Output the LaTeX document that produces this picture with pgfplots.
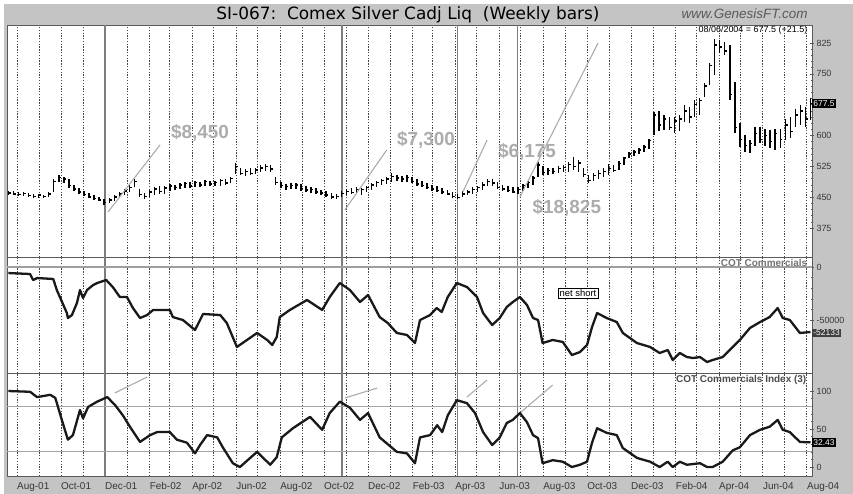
\documentclass[border=0pt]{standalone}
\usepackage{fontspec}
\setmainfont{Liberation Sans}
\newfontfamily\titlefont{DejaVu Sans}
\usepackage{pgfplots}
\usepackage{pgfplotstable}
\pgfplotsset{compat=1.18}
\definecolor{bg}{RGB}{196,196,196}
\definecolor{annot}{RGB}{172,172,172}
\definecolor{gridc}{RGB}{70,70,70}
\definecolor{vsolid}{RGB}{125,125,125}
\definecolor{frame}{RGB}{90,90,90}
\definecolor{ticktxt}{RGB}{55,55,55}

\pgfplotstableread{
w l h c
0 455 466 460
1 454 464 458
2 452 462 457
3 453 463 459
4 450 460 454
5 449 458 452
6 448 458 455
7 447 456 451
8 450 462 458
9 462 494 488
10 486 505 498
11 484 500 494
12 472 494 478
13 465 480 470
14 458 472 463
15 452 465 456
16 447 459 450
17 443 454 447
18 440 451 443
19 432 445 437
20 435 448 443
21 440 455 450
22 447 462 458
23 455 470 465
24 463 480 474
25 475 494 488
26 450 470 456
27 446 460 452
28 450 468 463
29 456 474 470
30 458 478 464
31 458 478 472
32 465 482 477
33 467 480 473
34 470 484 480
35 473 488 483
36 471 487 477
37 474 490 486
38 474 488 480
39 476 492 488
40 477 490 482
41 476 490 486
42 478 494 490
43 479 493 484
44 484 500 495
45 506 533 524
46 504 520 508
47 502 518 512
48 504 520 508
49 506 522 516
50 510 528 521
51 514 530 525
52 510 528 518
53 480 500 485
54 472 488 478
55 468 482 476
56 470 484 478
57 470 485 480
58 466 482 471
59 462 478 467
60 460 475 468
61 458 472 462
62 455 468 460
63 450 464 455
64 446 460 450
65 445 458 452
66 450 464 459
67 455 470 464
68 457 472 461
69 460 474 468
70 456 472 469
71 462 478 474
72 467 484 480
73 474 490 486
74 480 495 490
75 482 500 494
76 488 509 500
77 490 505 496
78 486 502 494
79 488 504 498
80 484 500 488
81 478 494 482
82 474 490 478
83 470 485 473
84 466 480 470
85 462 476 466
86 458 472 462
87 455 468 458
88 448 462 452
89 446 458 449
90 450 464 458
91 454 468 462
92 458 474 468
93 462 478 474
94 468 486 480
95 476 494 488
96 477 494 484
97 470 488 474
98 465 480 470
99 462 476 466
100 459 474 463
101 458 475 468
102 465 482 478
103 472 490 486
104 480 502 496
105 500 535 528
106 505 525 510
107 504 520 515
108 506 522 512
109 508 526 520
110 510 528 522
111 512 535 530
112 515 547 525
113 512 540 533
114 500 522 505
115 485 505 490
116 490 508 502
117 495 515 508
118 500 522 512
119 505 530 520
120 510 528 515
121 515 538 532
122 528 548 545
123 545 560 555
124 550 565 560
125 555 570 565
126 560 577 572
127 568 592 588
128 600 657 650
129 610 660 625
130 613 650 640
131 613 645 620
132 606 645 635
133 610 650 640
134 633 674 660
135 630 670 645
136 645 686 675
137 650 690 685
138 694 728 720
139 723 776 770
140 747 834 820
141 800 832 815
142 796 827 805
143 686 820 700
144 606 730 620
145 572 630 590
146 560 600 575
147 557 590 580
148 575 620 605
149 582 620 590
150 575 615 600
151 570 613 585
152 565 615 605
153 570 615 590
154 590 640 625
155 595 645 610
156 620 665 650
157 625 674 660
158 620 670 640
159 637 690 677.5
}\price

\pgfplotstableread{
w v
0 -5700
4.3 -6600
4.9 -12300
5.7 -10400
8.9 -11300
9.6 -21700
11.6 -43400
11.8 -48100
12.6 -45300
13.6 -33900
14.2 -21700
14.8 -29200
15.6 -21700
16.8 -17000
17.6 -15100
19.4 -12300
20.7 -18900
22.1 -28300
23.5 -28300
24.7 -38700
26.1 -48100
27.5 -45300
28.7 -40500
32.0 -40500
32.6 -47200
34.6 -50000
37.0 -59400
38.6 -44300
42.0 -45300
43.3 -52800
45.3 -75400
47.3 -68800
49.3 -62200
51.3 -68800
52.3 -73600
53.2 -66000
53.8 -47200
55.8 -40500
59.2 -31100
62.2 -40500
63.7 -28300
65.7 -15100
67.7 -21700
69.7 -33000
71.3 -26400
73.6 -47200
75.2 -52800
77.0 -62200
79.0 -64100
80.6 -71700
81.6 -50000
83.6 -45300
84.9 -38700
85.9 -42400
87.1 -28300
88.9 -15100
90.9 -18900
92.9 -28300
94.1 -43400
95.9 -54700
97.4 -48100
98.8 -37700
100.0 -33000
101.4 -28300
102.8 -35800
104.0 -48100
105.0 -50000
105.9 -71700
107.9 -68800
109.9 -70700
111.7 -83000
113.3 -80200
114.7 -73600
115.7 -56600
116.7 -43400
118.6 -48100
120.6 -51900
121.8 -62200
124.6 -71700
127.2 -75400
129.1 -81100
130.7 -78300
131.7 -87700
133.1 -81100
134.5 -84900
135.7 -85800
137.1 -84900
138.5 -89600
139.6 -87700
141.6 -84900
143.6 -75400
145.0 -68800
147.0 -57500
149.0 -51900
150.9 -47200
152.5 -38700
153.5 -48100
154.9 -50000
156.9 -62200
159.0 -61300
}\cot

\pgfplotstableread{
w v
0 100
4.3 99
5.7 92
8.3 95
9.3 91
10.6 62
11.8 36
12.8 42
14.2 75
14.8 64
15.8 79
17.6 86
19.6 92
21.1 82
22.7 68
24.1 53
26.1 33
28.1 42
29.5 46
32.0 46
33.4 36
35.4 32
37.0 18
38.0 29
39.4 42
41.4 39
42.5 26
44.5 5
45.9 0
49.3 20
51.9 3
53.2 13
54.2 39
56.4 51
59.8 66
62.2 49
63.7 71
65.7 86
67.7 78
69.7 62
71.3 71
73.6 39
77.0 20
79.0 18
80.6 5
81.6 39
83.6 42
85.0 55
86.0 46
87.1 68
88.9 88
90.9 84
92.5 71
94.1 46
95.9 29
97.4 39
98.8 58
100.0 62
101.4 71
102.8 59
104.0 42
105.0 38
105.9 5
107.9 9
109.9 7
111.7 0
113.3 3
114.7 7
115.7 32
116.7 51
118.6 45
120.6 42
121.8 25
124.6 12
127.2 7
129.1 0
130.7 7
131.7 0
133.1 7
134.5 3
137.1 5
138.5 0
139.6 0
141.6 7
143.6 22
145.0 26
147.0 42
149.0 49
150.9 53
152.5 62
153.5 49
154.9 46
156.9 33
159.0 32.43
}\cotidx

\pgfplotsset{
  panel/.style={
    scale only axis, width=805bp, anchor=north west,
    xmin=-0.27, xmax=159.3, clip=false,
    axis background/.style={fill=white},
    axis line style={draw=frame, line width=0.7pt},
    xtick={1.714,6.143,10.43,14.86,19.14,23.57,28.0,32.0,36.43,40.71,45.14,49.43,53.86,58.29,62.57,67.0,71.29,75.71,80.14,84.14,88.57,92.86,97.29,101.57,106.0,110.43,114.71,119.14,123.43,127.86,132.29,136.43,140.86,145.14,149.57,153.86,158.29},
    xtick style={draw=none},
    xmajorgrids,
    major x grid style={draw=gridc, line width=0.9pt, dash pattern=on 1.3pt off 1.5pt},
    extra x ticks={19.15,66.12,89.05,100.9},
    extra x tick labels={},
    extra x tick style={major x grid style={solid, draw=vsolid, line width=1.4pt}},
    ytick pos=right, yticklabel pos=right,
    scaled y ticks=false,
    yticklabel style={font=\fontsize{9}{9}\selectfont, text=ticktxt, xshift=-1bp},
    ytick style={draw=frame, line width=0.5pt},
    tick align=center, major tick length=4bp, minor tick length=2.5bp,
    minor y tick num=4,
    /pgf/number format/assume math mode=true,
  },
  serie/.style={black!90, line width=2.3bp, line join=round, mark=none},
}
\tikzset{flag/.style={anchor=west, inner sep=1.2bp, font=\fontsize{8.5}{8.5}\selectfont, text=white}}

\begin{document}
\begin{tikzpicture}
\useasboundingbox (0,0) rectangle (853bp,-494bp);
\fill[white] (0,0) rectangle (853bp,-494bp);
\fill[bg] (4bp,-4bp) rectangle (853bp,-494bp);

\node[font=\titlefont\fontsize{17}{17}\selectfont, text=black] at (408bp,-14.5bp) {SI-067:\ \ Comex Silver Cadj Liq\ \ (Weekly bars)};
\node[anchor=east, font=\itshape\fontsize{13.5}{13.5}\selectfont, text=black!65] at (811bp,-14bp) {www.GenesisFT.com};

% ---------------- top panel: price ----------------
\begin{axis}[panel, at={(7bp,-25bp)}, height=232bp,
  ymin=304.3, ymax=868.8,
  ytick={375,450,525,600,675,750,825},
  yticklabels={375,450,525,600,,750,825},
  xticklabels={}]
\addplot[draw=none, mark=none, forget plot,
  error bars/.cd, y dir=both, y explicit, error mark=none,
  error bar style={draw=black, line width=1.45bp}]
  table[x=w, y expr={(\thisrow{h}+\thisrow{l})/2}, y error expr={(\thisrow{h}-\thisrow{l})/2}] {\price};
\addplot[draw=none, mark=none, forget plot,
  error bars/.cd, x dir=plus, x fixed=0.45, error mark=none,
  error bar style={draw=black, line width=1.45bp}]
  table[x=w, y=c] {\price};
\draw[annot, line width=1.1pt] (axis cs:19.75,413.8) -- (axis cs:30.05,576.8);
\draw[annot, line width=1.1pt] (axis cs:66.7,418.7) -- (axis cs:75.0,564.7);
\draw[annot, line width=1.1pt] (axis cs:90.1,462.5) -- (axis cs:94.9,589.0);
\draw[annot, line width=1.1pt] (axis cs:101.4,450.3) -- (axis cs:116.9,825);
\node[text=annot, font=\bfseries\fontsize{19}{19}\selectfont] at (axis cs:38.0,606) {\$8,450};
\node[text=annot, font=\bfseries\fontsize{19}{19}\selectfont] at (axis cs:82.8,589) {\$7,300};
\node[text=annot, font=\bfseries\fontsize{19}{19}\selectfont] at (axis cs:102.8,560) {\$6,175};
\node[text=annot, font=\bfseries\fontsize{19}{19}\selectfont] at (axis cs:110.7,423.5) {\$18,825};
\node[anchor=east, font=\fontsize{9}{9}\selectfont, text=black, inner sep=1bp] at (axis cs:158.6,856.6) {08/06/2004 = 677.5 (+21.5)};
\node[flag, fill=black] at (axis cs:159.3,677.5) {677.5};
\end{axis}

% ---------------- middle panel: COT commercials ----------------
\begin{axis}[panel, at={(7bp,-257bp)}, height=116bp,
  ymin=-99958, ymax=9430,
  ytick={-50000,0},
  yticklabels={-50000,0},
  xticklabels={}]
\draw[gray!75, line width=1.2pt] (axis cs:-0.27,0) -- (axis cs:159.3,0);
\node[anchor=east, font=\bfseries\fontsize{10}{10}\selectfont, text=black!55, inner sep=1bp] at (axis cs:158.6,4200) {COT Commercials};
\addplot[serie] table[x=w, y=v] {\cot};
\node[draw=black, line width=0.6pt, fill=white, font=\fontsize{9.5}{9.5}\selectfont, inner sep=1.5bp] at (axis cs:112.9,-24500) {net short};
\node[flag, fill=black!75] at (axis cs:159.3,-62200) {-52133};
\end{axis}

% ---------------- bottom panel: COT index ----------------
\begin{axis}[panel, at={(7bp,-373bp)}, height=103bp,
  ymin=-11.8, ymax=123.7,
  ytick={0,50,100},
  yticklabels={0,50,100},
  xticklabels={Aug-01,,Oct-01,,Dec-01,,Feb-02,,Apr-02,,Jun-02,,Aug-02,,Oct-02,,Dec-02,,Feb-03,,Apr-03,,Jun-03,,Aug-03,,Oct-03,,Dec-03,,Feb-04,,Apr-04,,Jun-04,,Aug-04},
  xticklabel style={anchor=north west, font=\fontsize{10}{10}\selectfont, text=ticktxt, inner xsep=0pt, yshift=-1bp}]
\draw[gray!70, line width=1.2pt] (axis cs:-0.27,80) -- (axis cs:159.3,80);
\draw[gray!70, line width=1.2pt] (axis cs:-0.27,20) -- (axis cs:159.3,20);
\node[anchor=east, font=\bfseries\fontsize{10}{10}\selectfont, text=black!70, inner sep=1bp] at (axis cs:158.4,114.5) {COT Commercials Index (3)};
\draw[annot, line width=1.1pt] (axis cs:21.1,97.4) -- (axis cs:27.5,118.4);
\draw[annot, line width=1.1pt] (axis cs:66.7,90.8) -- (axis cs:73.1,103.9);
\draw[annot, line width=1.1pt] (axis cs:90.9,92.1) -- (axis cs:94.9,114.5);
\draw[annot, line width=1.1pt] (axis cs:101.4,71.1) -- (axis cs:107.9,107.9);
\addplot[serie] table[x=w, y=v] {\cotidx};
\node[flag, fill=black] at (axis cs:159.3,32.43) {32.43};
\end{axis}
\end{tikzpicture}
\end{document}
